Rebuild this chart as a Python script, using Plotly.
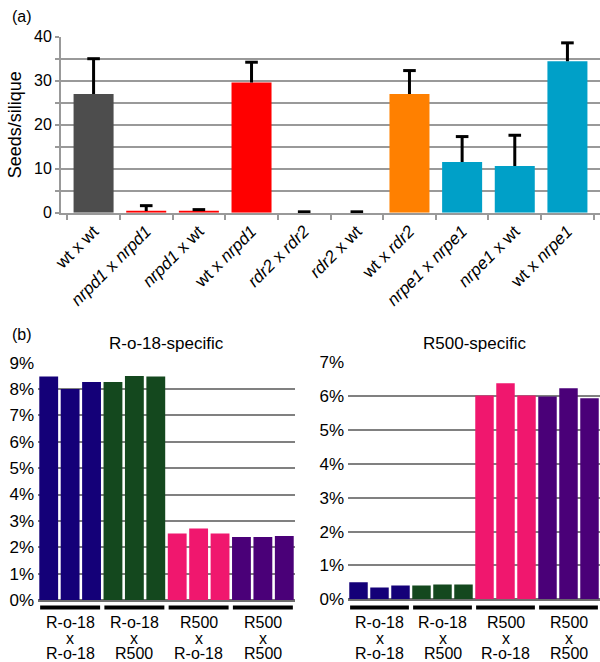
import plotly.graph_objects as go

# ---------------- Panel (a) data ----------------
cross_names = ["wt x wt", "nrpd1 x nrpd1", "nrpd1 x wt", "wt x nrpd1", "rdr2 x rdr2",
               "rdr2 x wt", "wt x rdr2", "nrpe1 x nrpe1", "nrpe1 x wt", "wt x nrpe1"]
cross_labels = ["wt x wt", "<i>nrpd1</i> x <i>nrpd1</i>", "<i>nrpd1</i> x wt", "wt x <i>nrpd1</i>",
                "<i>rdr2</i> x <i>rdr2</i>", "<i>rdr2</i> x wt", "wt x <i>rdr2</i>",
                "<i>nrpe1</i> x <i>nrpe1</i>", "<i>nrpe1</i> x wt", "wt x <i>nrpe1</i>"]
seeds_per_silique = [27.0, 0.4, 0.4, 29.6, 0.0, 0.0, 27.0, 11.5, 10.6, 34.4]
seeds_error = [8.0, 1.2, 0.3, 4.6, 0.2, 0.2, 5.3, 5.8, 7.0, 4.2]
cross_colors = ["#4d4d4d", "#ff0000", "#ff0000", "#ff0000", "#ff8000",
                "#ff8000", "#ff8000", "#00a0c8", "#00a0c8", "#00a0c8"]

# ---------------- Panel (b) data ----------------
group_labels = [("R-o-18", "R-o-18"), ("R-o-18", "R500"), ("R500", "R-o-18"), ("R500", "R500")]
group_colors = ["#140078", "#14481e", "#f0176e", "#4a0078"]
replicates = ["1", "2", "3"]
ro18_specific = [[8.48, 8.00, 8.27], [8.27, 8.50, 8.48], [2.52, 2.71, 2.52], [2.39, 2.39, 2.43]]
r500_specific = [[0.50, 0.35, 0.41], [0.41, 0.44, 0.44], [6.02, 6.38, 6.02], [5.99, 6.23, 5.94]]

FONT = "Liberation Sans, Arial, sans-serif"
W, H = 600, 662
BAR_W_A = 0.76
BAR_W_B = 0.88

fig = go.Figure()

# Panel (a) bars
fig.add_trace(go.Bar(
    x=cross_names, y=seeds_per_silique, width=BAR_W_A,
    marker=dict(color=cross_colors, line=dict(width=0)),
    error_y=dict(type="data", symmetric=False, array=seeds_error,
                 arrayminus=[0] * len(seeds_error), color="black", thickness=3, width=0),
    xaxis="x", yaxis="y", showlegend=False))
fig.add_trace(go.Scatter(
    x=cross_names, y=[v + e for v, e in zip(seeds_per_silique, seeds_error)],
    mode="markers", marker=dict(symbol="line-ew", size=9, line=dict(width=3, color="black")),
    xaxis="x", yaxis="y", showlegend=False, cliponaxis=False))

# Panel (b) bars
for panel_vals, xa, ya in [(ro18_specific, "x2", "y2"), (r500_specific, "x3", "y3")]:
    for gi, vals in enumerate(panel_vals):
        cats = [f"g{gi}r{r}" for r in replicates]
        fig.add_trace(go.Bar(x=cats, y=vals, width=BAR_W_B,
                             marker=dict(color=group_colors[gi], line=dict(width=0)),
                             xaxis=xa, yaxis=ya, showlegend=False))

def py(pix):
    return 1 - pix / H

grid_a = "#999999"
layout = dict(
    width=W, height=H, template="none", autosize=False,
    margin=dict(l=0, r=0, t=0, b=0), paper_bgcolor="white", plot_bgcolor="rgba(0,0,0,0)",
    font=dict(family=FONT, color="black"), barmode="overlay", showlegend=False,
    xaxis=dict(domain=[61 / W, 1], anchor="y", type="category", tickvals=cross_names,
               ticktext=cross_labels, tickangle=-45, tickfont=dict(size=17), showline=True,
               linecolor=grid_a, linewidth=2, ticks="outside", tickson="boundaries", ticklen=5,
               tickcolor=grid_a, tickwidth=2, showgrid=False, zeroline=False, automargin=False),
    yaxis=dict(domain=[py(212.7), py(36.7)], anchor="x", range=[0, 40], dtick=10,
               tickfont=dict(size=16), showline=True, linecolor=grid_a, linewidth=2,
               ticks="outside", ticklen=4, tickcolor=grid_a, tickwidth=2,
               showgrid=True, gridcolor=grid_a, gridwidth=2, zeroline=False, automargin=False,
               minor=dict(dtick=5, showgrid=True, gridcolor=grid_a, gridwidth=2,
                          ticks="outside", ticklen=4, tickcolor=grid_a, tickwidth=2),
               title=dict(text="Seeds/silique", font=dict(size=18), standoff=8)),
    xaxis2=dict(domain=[38 / W, 295 / W], anchor="y2", type="category", showticklabels=False,
                showgrid=False, zeroline=False, showline=False, ticks="", automargin=False),
    yaxis2=dict(domain=[py(600), py(362.7)], anchor="x2", range=[0, 9], dtick=1, ticksuffix="%",
                tickfont=dict(size=17), showgrid=True, gridcolor="#808080", gridwidth=2,
                zeroline=True, zerolinecolor="#6e6e6e", zerolinewidth=3, showline=False,
                ticks="", ticklabelstandoff=3, automargin=False),
    xaxis3=dict(domain=[348 / W, 1], anchor="y3", type="category", showticklabels=False,
                showgrid=False, zeroline=False, showline=False, ticks="", automargin=False),
    yaxis3=dict(domain=[py(599.3), py(362.3)], anchor="x3", range=[0, 7], dtick=1, ticksuffix="%",
                tickfont=dict(size=17), showgrid=True, gridcolor="#808080", gridwidth=2,
                zeroline=True, zerolinecolor="#6e6e6e", zerolinewidth=3, showline=False,
                ticks="", ticklabelstandoff=3, automargin=False),
)
fig.update_layout(**layout)

annotations = [
    dict(text="(a)", x=10 / W, y=py(16), xref="paper", yref="paper", xanchor="left",
         yanchor="middle", showarrow=False, font=dict(size=16)),
    dict(text="(b)", x=10 / W, y=py(334), xref="paper", yref="paper", xanchor="left",
         yanchor="middle", showarrow=False, font=dict(size=16)),
    dict(text="R-o-18-specific", x=0.5, y=py(343), xref="x2 domain", yref="paper",
         xanchor="center", yanchor="middle", showarrow=False, font=dict(size=17)),
    dict(text="R500-specific", x=0.5, y=py(343), xref="x3 domain", yref="paper",
         xanchor="center", yanchor="middle", showarrow=False, font=dict(size=17)),
]
shapes = []
n_rep = len(replicates)
for xa in ["x2", "x3"]:
    for gi, (female, male) in enumerate(group_labels):
        centre = gi * n_rep + (n_rep - 1) / 2
        shapes.append(dict(type="line", xref=xa, yref="paper",
                           x0=gi * n_rep - 0.4, x1=gi * n_rep + n_rep - 1 + 0.4,
                           y0=py(607.5), y1=py(607.5), line=dict(color="black", width=4)))
        for txt, ypix in [(female, 622), ("x", 638), (male, 653)]:
            annotations.append(dict(text=txt, x=centre, y=py(ypix), xref=xa, yref="paper",
                                    xanchor="center", yanchor="middle", showarrow=False,
                                    font=dict(size=16)))
fig.update_layout(annotations=annotations, shapes=shapes)

fig.write_html("out.html", config={"displayModeBar": False},
               post_script="document.body.style.margin='0';document.body.style.padding='0';")
